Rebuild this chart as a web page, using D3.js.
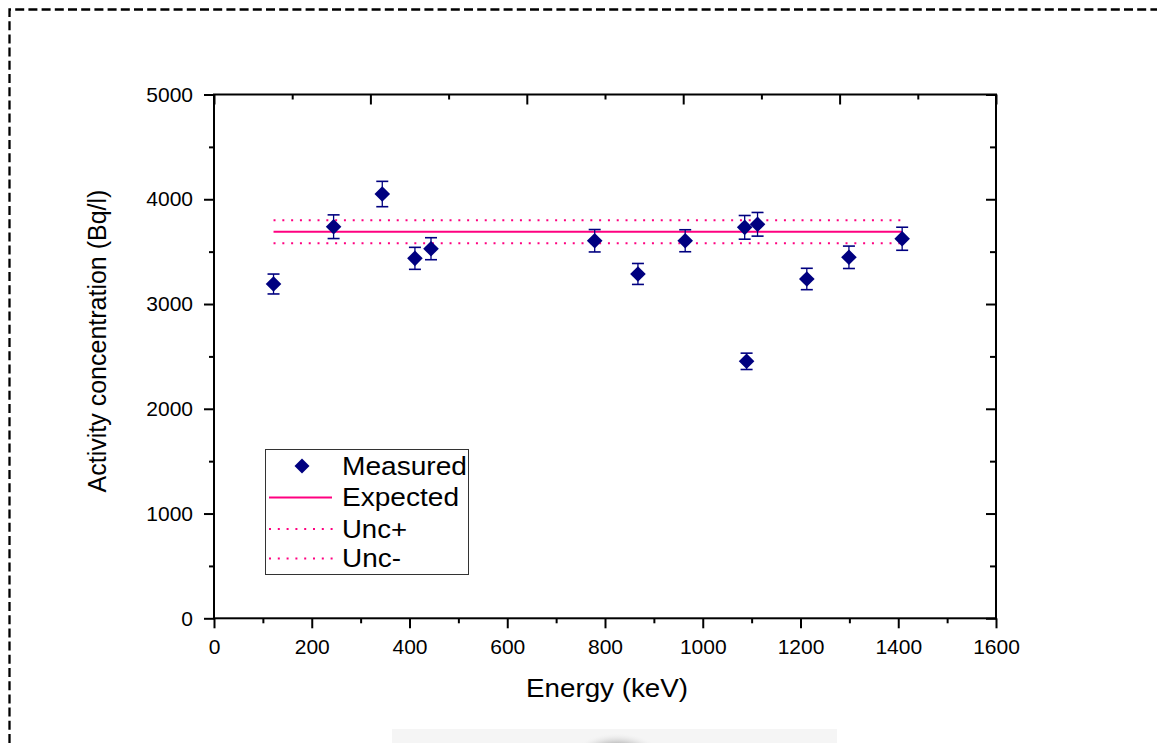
<!DOCTYPE html>
<html>
<head>
<meta charset="utf-8">
<script src="https://cdn.jsdelivr.net/npm/d3@7"></script>
<style>
  html, body { margin: 0; padding: 0; background: #fff; }
  svg { display: block; font-family: "Liberation Sans", Arial, sans-serif; }
</style>
</head>
<body>
<svg id="chart" width="1157" height="743"></svg>
<script>
// ---- data ----
const energies = [121.8, 244.7, 344.3, 411.1, 444.0, 778.9, 867.4, 964.1, 1085.8, 1089.7, 1112.1, 1212.9, 1299.1, 1408.0];
const measured = [3191, 3738, 4050, 3436, 3528, 3604, 3287, 3604, 3732, 2453, 3761, 3239, 3446, 3623];
const errors   = [95, 113, 121, 105, 105, 107, 100, 105, 113, 78, 113, 102, 107, 110];
const expectedValue = 3690;
const uncPlus = 3799;
const uncMinus = 3580;
const lineRange = [121.8, 1408.0];
const xTicks = [0, 200, 400, 600, 800, 1000, 1200, 1400, 1600];
const xMinorTicks = [100, 300, 500, 700, 900, 1100, 1300, 1500];
const topTicks = [0, 320, 640, 960, 1280, 1600];
const topMinorTicks = [160, 480, 800, 1120, 1440];
const yTicks = [0, 1000, 2000, 3000, 4000, 5000];
const yMinorTicks = [500, 1500, 2500, 3500, 4500];
const legendLabels = ["Measured", "Expected", "Unc+", "Unc-"];

// ---- layout ----
const svg = d3.select("#chart");
const L = 214, R = 996, T = 94.5, B = 618.3;
const x = d3.scaleLinear().domain([0, 1600]).range([L, R]);
const y = d3.scaleLinear().domain([0, 5000]).range([B, T]);
const navy = "#000080", pink = "#FF0080";

// decorative page elements (dashed frame, faint image fragment at bottom)
svg.append("path")
  .attr("d", `M9.5,743 L9.5,9.5 L1160,9.5`)
  .attr("fill", "none").attr("stroke", "#000").attr("stroke-width", 2.3)
  .attr("stroke-dasharray", "9,4.2");
const defs = svg.append("defs");
const rg = defs.append("radialGradient").attr("id", "smudge");
rg.append("stop").attr("offset", "0%").attr("stop-color", "#8a8a8a");
rg.append("stop").attr("offset", "60%").attr("stop-color", "#b5b5b5");
rg.append("stop").attr("offset", "100%").attr("stop-color", "#f2f2f2").attr("stop-opacity", 0);
svg.append("rect").attr("x", 392).attr("y", 729).attr("width", 445).attr("height", 14).attr("fill", "#f5f5f5");
svg.append("ellipse").attr("cx", 617).attr("cy", 762).attr("rx", 48).attr("ry", 29).attr("fill", "url(#smudge)");

// ---- axes ----
function styleAxis(g) {
  g.select(".domain").remove();
  g.selectAll(".tick line").attr("stroke", "#000").attr("stroke-width", 2);
  g.selectAll(".tick text").attr("fill", "#000").attr("font-size", 21)
    .attr("font-family", "'Liberation Sans', Arial, sans-serif");
}
// bottom
svg.append("g").attr("transform", `translate(0,${B})`)
  .call(d3.axisBottom(x).tickValues(xTicks).tickSize(10).tickPadding(11).tickFormat(d3.format("d")))
  .call(styleAxis);
svg.append("g").attr("transform", `translate(0,${B})`)
  .call(d3.axisBottom(x).tickValues(xMinorTicks).tickSize(5).tickFormat(""))
  .call(styleAxis);
// top (mirror, inward)
svg.append("g").attr("transform", `translate(0,${T})`)
  .call(d3.axisBottom(x).tickValues(topTicks).tickSize(10).tickFormat(""))
  .call(styleAxis);
svg.append("g").attr("transform", `translate(0,${T})`)
  .call(d3.axisBottom(x).tickValues(topMinorTicks).tickSize(5).tickFormat(""))
  .call(styleAxis);
// left
svg.append("g").attr("transform", `translate(${L},0)`)
  .call(d3.axisLeft(y).tickValues(yTicks).tickSize(10).tickPadding(11).tickFormat(d3.format("d")))
  .call(styleAxis);
svg.append("g").attr("transform", `translate(${L},0)`)
  .call(d3.axisLeft(y).tickValues(yMinorTicks).tickSize(5).tickFormat(""))
  .call(styleAxis);
// right (mirror, inward)
svg.append("g").attr("transform", `translate(${R},0)`)
  .call(d3.axisLeft(y).tickValues(yTicks).tickSize(10).tickFormat(""))
  .call(styleAxis);
svg.append("g").attr("transform", `translate(${R},0)`)
  .call(d3.axisLeft(y).tickValues(yMinorTicks).tickSize(6).tickFormat(""))
  .call(styleAxis);
// frame
svg.append("rect").attr("x", L).attr("y", T).attr("width", R - L).attr("height", B - T)
  .attr("fill", "none").attr("stroke", "#000").attr("stroke-width", 2);

// axis titles
svg.append("text").attr("x", 607).attr("y", 697).attr("text-anchor", "middle")
  .attr("font-size", 26).attr("fill", "#000")
  .attr("textLength", 162).attr("lengthAdjust", "spacingAndGlyphs")
  .text("Energy (keV)");
svg.append("text").attr("transform", "translate(106,341) rotate(-90)").attr("text-anchor", "middle")
  .attr("font-size", 25).attr("fill", "#000")
  .text("Activity concentration (Bq/l)");

// ---- reference lines ----
const refLine = (v, dotted) => svg.append("line")
  .attr("x1", x(lineRange[0])).attr("x2", x(lineRange[1]))
  .attr("y1", y(v)).attr("y2", y(v))
  .attr("stroke", pink).attr("stroke-width", dotted ? 2 : 2)
  .attr("stroke-dasharray", dotted ? "2,6.8" : null);
refLine(uncPlus, true);
refLine(uncMinus, true);
refLine(expectedValue, false);

// ---- measured points with error bars ----
const pts = energies.map((e, i) => ({ e, v: measured[i], err: errors[i] }));
const eb = svg.append("g").attr("stroke", navy);
pts.forEach(d => {
  const cx = x(d.e);
  eb.append("line").attr("x1", cx).attr("x2", cx).attr("y1", y(d.v + d.err)).attr("y2", y(d.v - d.err)).attr("stroke-width", 1.3);
  [d.v + d.err, d.v - d.err].forEach(w => {
    eb.append("line").attr("x1", cx - 6).attr("x2", cx + 6).attr("y1", y(w)).attr("y2", y(w)).attr("stroke-width", 1.6);
  });
});
const diamond = r => `M0,${-r}L${r},0L0,${r}L${-r},0Z`;
svg.append("g").selectAll("path").data(pts).join("path")
  .attr("d", diamond(7.8))
  .attr("transform", d => `translate(${x(d.e)},${y(d.v)})`)
  .attr("fill", navy);

// ---- legend ----
const lg = svg.append("g");
lg.append("rect").attr("x", 265.5).attr("y", 449.5).attr("width", 203).attr("height", 125)
  .attr("fill", "#fff").attr("stroke", "#333").attr("stroke-width", 1);
const rowY = [466, 497.5, 529, 558.5];
const textW = [125, 117, 65, 59];
legendLabels.forEach((lab, i) => {
  lg.append("text").attr("x", 342).attr("y", rowY[i] + 8.5)
    .attr("font-size", 26).attr("fill", "#000")
    .attr("textLength", textW[i]).attr("lengthAdjust", "spacingAndGlyphs")
    .text(lab);
});
lg.append("path").attr("d", diamond(7.5)).attr("transform", `translate(302,${rowY[0]})`).attr("fill", navy);
lg.append("line").attr("x1", 269).attr("x2", 332).attr("y1", rowY[1]).attr("y2", rowY[1])
  .attr("stroke", pink).attr("stroke-width", 2);
[2, 3].forEach(i => {
  lg.append("line").attr("x1", 269).attr("x2", 334).attr("y1", rowY[i]).attr("y2", rowY[i])
    .attr("stroke", pink).attr("stroke-width", 2).attr("stroke-dasharray", "2,6.8");
});
</script>
</body>
</html>
